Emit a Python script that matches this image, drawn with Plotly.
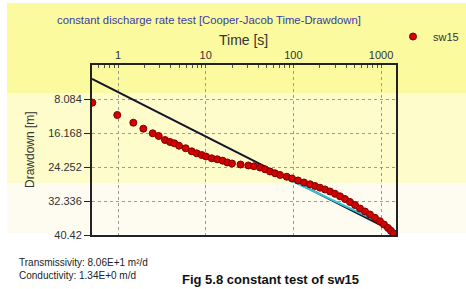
import plotly.graph_objects as go

# ---- data ----
time_s = [0.509, 0.98, 1.494, 1.944, 2.487, 2.912, 3.436, 3.918, 4.387, 4.963,
          5.916, 6.93, 7.9, 9.01, 10.09, 11.72, 13.57, 15.63, 17.64, 19.96,
          24.96, 30.64, 35.58, 41.64, 47.5, 54.2, 61.8, 70.5, 84.0, 96.6,
          113.0, 132.3, 155.0, 176.6, 201.5, 229.8, 262.0, 298.7, 340.6, 388.3,
          442.8, 505.0, 575.8, 656.5, 748.5, 853.5, 973.0, 1081.0, 1202.0, 1300.0, 1388.0]
drawdown_m = [8.96, 11.89, 13.72, 15.14, 16.24, 16.88, 17.83, 18.31, 18.62, 19.19,
              19.8, 20.52, 21.0, 21.4, 21.75, 22.18, 22.42, 22.75, 23.18, 23.42,
              23.66, 23.89, 24.08, 24.37, 24.8, 25.32, 25.75, 26.15, 26.56, 26.99,
              27.46, 27.94, 28.36, 28.77, 29.17, 29.6, 30.08, 30.62, 31.22, 31.86,
              32.57, 33.29, 34.12, 34.83, 35.54, 36.33, 37.16, 37.92, 38.75, 39.47, 40.06]

jacob_t = [0.505, 1483.0]
jacob_s = [3.33, 39.94]

fit_t = [47.5, 1407.0]
fit_s = [24.6, 39.0]

x_tickvals = [1, 10, 100, 1000]
x_ticktext = ["1", "10", "100", "1000"]
y_tickvals = [8.084, 16.168, 24.252, 32.336, 40.42]
y_ticktext = ["8.084", "16.168", "24.252", "32.336", "40.42"]

# ---- layout geometry (pixels) ----
W, H = 466, 289
L, R, T, B = 92, 70, 65, 54
PW, PH = W - L - R, H - T - B


def px(x):
    return (x - L) / PW


def py(y):
    return (H - B - y) / PH


fig = go.Figure()

fig.add_trace(go.Scatter(x=jacob_t, y=jacob_s, mode="lines",
                         line=dict(color="#15152a", width=2), showlegend=False, hoverinfo="skip"))
fig.add_trace(go.Scatter(x=fit_t, y=fit_s, mode="lines",
                         line=dict(color="#33c6d6", width=2), showlegend=False, hoverinfo="skip"))
fig.add_trace(go.Scatter(x=time_s, y=drawdown_m, mode="markers", name="sw15",
                         marker=dict(size=7, color="#d40000", line=dict(color="#7a0000", width=1))))

# background bands
bands = [
    (3, 93, "#fbfa9e"),
    (93, 183, "#fdfcca"),
    (183, 233, "#fefcf1"),
]
shapes = []
for y0, y1, c in bands:
    shapes.append(dict(type="rect", xref="paper", yref="paper", x0=px(7), x1=px(W + 2),
                       y0=py(y1), y1=py(y0), fillcolor=c, line=dict(width=0), layer="below"))

grid = dict(showgrid=True, gridcolor="#9a9a9a", gridwidth=1.3, griddash="3px,3px")

fig.update_layout(
    width=W, height=H,
    margin=dict(l=L, r=R, t=T, b=B, pad=0, autoexpand=False),
    paper_bgcolor="white",
    plot_bgcolor="rgba(0,0,0,0)",
    shapes=shapes,
    font=dict(family="Liberation Sans, Arial, sans-serif", size=11, color="#333333"),
    xaxis=dict(type="log", range=[-0.297, 3.171], side="top",
               tickvals=x_tickvals, ticktext=x_ticktext, ticks="",
               tickfont=dict(size=11, color="#333333"),
               showline=True, linecolor="#222222", linewidth=2, mirror=True,
               zeroline=False, automargin=False,
               minor=dict(ticks="inside", ticklen=3, tickcolor="#555555", dtick="D1", showgrid=False),
               **grid),
    yaxis=dict(range=[40.42, 0], tickvals=y_tickvals, ticktext=y_ticktext,
               ticks="outside", ticklen=6, tickcolor="#222222", tickwidth=1,
               tickfont=dict(size=11, color="#333333"),
               showline=True, linecolor="#222222", linewidth=2, mirror=True,
               zeroline=False, automargin=False, **grid),
    legend=dict(x=px(393), y=py(22), xanchor="left", yanchor="top",
                bgcolor="rgba(0,0,0,0)", font=dict(size=11, color="#333333"),
                itemwidth=30),
    showlegend=True,
)

ann = [
    dict(text="constant discharge rate test [Cooper-Jacob Time-Drawdown]",
         x=px(55), y=py(20), xanchor="left", yanchor="middle",
         font=dict(size=11.3, color="#3a3aa8")),
    dict(text="Time [s]", x=px(243), y=py(40), xanchor="center", yanchor="middle",
         font=dict(size=14, color="#333333")),
    dict(text="Drawdown [m]", x=px(30), y=py(150), xanchor="center", yanchor="middle",
         textangle=-90, font=dict(size=12, color="#333333")),
    dict(text="Transmissivity: 8.06E+1 m²/d", x=px(17), y=py(262), xanchor="left", yanchor="middle",
         font=dict(size=10, color="#222222")),
    dict(text="Conductivity: 1.34E+0 m/d", x=px(17), y=py(275), xanchor="left", yanchor="middle",
         font=dict(size=10, color="#222222")),
    dict(text="<b>Fig 5.8 constant test of sw15</b>", x=px(270), y=py(288), xanchor="center", yanchor="bottom",
         font=dict(size=13, color="#111111"), borderpad=0),
]
for a in ann:
    a.update(xref="paper", yref="paper", showarrow=False)
fig.update_layout(annotations=ann)

fig.write_html("out.html", config={"displayModeBar": False},
               post_script="document.body.style.margin='0px';document.body.style.overflow='hidden';")
